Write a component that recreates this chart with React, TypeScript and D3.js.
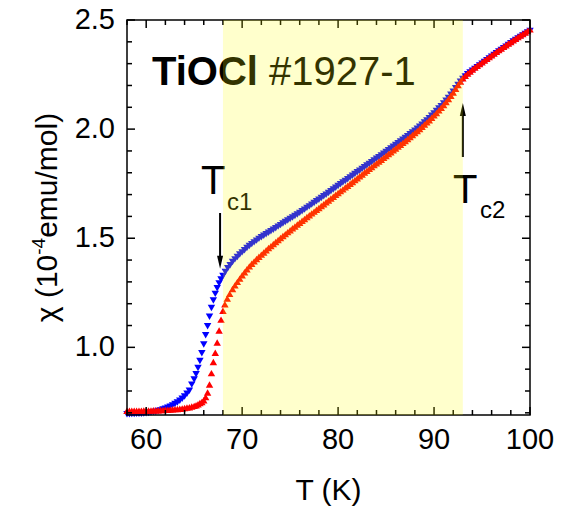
import React from "react";
import * as d3 from "d3";

// Run 1, down triangles (blue): [T (K), chi (1e-4 emu/mol)]
const run1: [number, number][] = [
  [58.0, 0.698], [58.25, 0.698], [58.5, 0.699], [58.75, 0.699], [59.0, 0.7], [59.25, 0.7], [59.5, 0.701],
  [59.75, 0.702], [60.0, 0.703], [60.25, 0.704], [60.5, 0.706], [60.75, 0.708], [61.0, 0.71], [61.25, 0.713],
  [61.5, 0.716], [61.75, 0.72], [62.0, 0.724], [62.25, 0.728], [62.5, 0.733], [62.75, 0.739], [63.0, 0.745],
  [63.25, 0.752], [63.5, 0.76], [63.75, 0.769], [64.0, 0.78], [64.25, 0.792], [64.5, 0.806], [64.75, 0.834],
  [65.0, 0.858], [65.2, 0.882], [65.4, 0.91], [65.6, 0.942], [65.8, 0.978], [66.0, 1.018], [66.2, 1.06],
  [66.4, 1.102], [66.6, 1.145], [66.8, 1.185], [67.0, 1.22], [67.2, 1.25], [67.4, 1.276], [67.6, 1.298],
  [67.8, 1.316], [68.0, 1.332], [68.25, 1.35], [68.5, 1.367], [68.75, 1.381], [69.0, 1.396],
  [69.25, 1.408], [69.5, 1.419], [69.75, 1.43], [70.0, 1.44], [70.25, 1.45], [70.5, 1.46], [70.75, 1.469],
  [71.0, 1.478], [71.25, 1.486], [71.5, 1.494], [71.75, 1.502], [72.0, 1.509], [72.25, 1.516], [72.5, 1.523],
  [72.75, 1.53], [73.0, 1.537], [73.25, 1.544], [73.5, 1.551], [73.75, 1.558], [74.0, 1.565], [74.25, 1.572],
  [74.5, 1.579], [74.75, 1.586], [75.0, 1.593], [75.25, 1.6], [75.5, 1.607], [75.75, 1.614], [76.0, 1.621],
  [76.25, 1.629], [76.5, 1.636], [76.75, 1.644], [77.0, 1.651], [77.25, 1.659], [77.5, 1.666], [77.75, 1.674],
  [78.0, 1.681], [78.25, 1.689], [78.5, 1.697], [78.75, 1.704], [79.0, 1.712], [79.25, 1.72], [79.5, 1.728],
  [79.75, 1.736], [80.0, 1.744], [80.25, 1.752], [80.5, 1.76], [80.75, 1.767], [81.0, 1.775], [81.25, 1.783],
  [81.5, 1.791], [81.75, 1.799], [82.0, 1.807], [82.25, 1.814], [82.5, 1.822], [82.75, 1.83], [83.0, 1.838],
  [83.25, 1.845], [83.5, 1.853], [83.75, 1.861], [84.0, 1.869], [84.25, 1.876], [84.5, 1.884], [84.75, 1.892],
  [85.0, 1.9], [85.25, 1.908], [85.5, 1.916], [85.75, 1.924], [86.0, 1.932], [86.25, 1.94], [86.5, 1.948],
  [86.75, 1.956], [87.0, 1.964], [87.25, 1.972], [87.5, 1.981], [87.75, 1.989], [88.0, 1.998], [88.25, 2.007],
  [88.5, 2.016], [88.75, 2.025], [89.0, 2.035], [89.25, 2.045], [89.5, 2.055], [89.75, 2.066], [90.0, 2.077],
  [90.25, 2.088], [90.5, 2.099], [90.75, 2.11], [91.0, 2.122], [91.25, 2.135], [91.5, 2.148], [91.75, 2.162],
  [92.0, 2.176], [92.25, 2.192], [92.5, 2.207], [92.75, 2.222], [93.0, 2.235], [93.25, 2.246], [93.5, 2.256],
  [93.75, 2.265], [94.0, 2.273], [94.25, 2.281], [94.5, 2.289], [94.75, 2.297], [95.0, 2.305], [95.25, 2.313],
  [95.5, 2.321], [95.75, 2.329], [96.0, 2.337], [96.25, 2.345], [96.5, 2.353], [96.75, 2.361], [97.0, 2.368],
  [97.25, 2.376], [97.5, 2.383], [97.75, 2.391], [98.0, 2.398], [98.25, 2.406], [98.5, 2.413], [98.75, 2.42],
  [99.0, 2.427], [99.25, 2.434], [99.5, 2.441], [99.75, 2.448], [100.0, 2.455],
];

// Run 2, up triangles (red): [T (K), chi (1e-4 emu/mol)]
const run2: [number, number][] = [
  [58.0, 0.705], [58.25, 0.705], [58.5, 0.705], [58.75, 0.705], [59.0, 0.705], [59.25, 0.705], [59.5, 0.705],
  [59.75, 0.706], [60.0, 0.706], [60.25, 0.706], [60.5, 0.706], [60.75, 0.707], [61.0, 0.707], [61.25, 0.707],
  [61.5, 0.708], [61.75, 0.708], [62.0, 0.709], [62.25, 0.709], [62.5, 0.71], [62.75, 0.711], [63.0, 0.712],
  [63.25, 0.713], [63.5, 0.714], [63.75, 0.715], [64.0, 0.717], [64.25, 0.719], [64.5, 0.721], [64.75, 0.724],
  [65.0, 0.727], [65.2, 0.73], [65.4, 0.734], [65.6, 0.74], [65.8, 0.745], [66.0, 0.753], [66.2, 0.767],
  [66.4, 0.788], [66.6, 0.825], [66.8, 0.877], [67.0, 0.928], [67.2, 0.97], [67.4, 1.017], [67.6, 1.072],
  [67.8, 1.122], [68.0, 1.163], [68.2, 1.193], [68.45, 1.219], [68.7, 1.24], [69.0, 1.262], [69.25, 1.279],
  [69.5, 1.295], [69.75, 1.31], [70.0, 1.325], [70.25, 1.339], [70.5, 1.353], [70.75, 1.366], [71.0, 1.378],
  [71.25, 1.389], [71.5, 1.4], [71.75, 1.41], [72.0, 1.42], [72.25, 1.43], [72.5, 1.44], [72.75, 1.45],
  [73.0, 1.459], [73.25, 1.469], [73.5, 1.478], [73.75, 1.487], [74.0, 1.496], [74.25, 1.505], [74.5, 1.514],
  [74.75, 1.523], [75.0, 1.532], [75.25, 1.541], [75.5, 1.549], [75.75, 1.558], [76.0, 1.566], [76.25, 1.575],
  [76.5, 1.583], [76.75, 1.592], [77.0, 1.6], [77.25, 1.609], [77.5, 1.617], [77.75, 1.626], [78.0, 1.634],
  [78.25, 1.643], [78.5, 1.651], [78.75, 1.66], [79.0, 1.668], [79.25, 1.677], [79.5, 1.685], [79.75, 1.694],
  [80.0, 1.702], [80.25, 1.711], [80.5, 1.719], [80.75, 1.728], [81.0, 1.736], [81.25, 1.745], [81.5, 1.753],
  [81.75, 1.762], [82.0, 1.77], [82.25, 1.779], [82.5, 1.787], [82.75, 1.796], [83.0, 1.804], [83.25, 1.813],
  [83.5, 1.821], [83.75, 1.83], [84.0, 1.838], [84.25, 1.847], [84.5, 1.855], [84.75, 1.864], [85.0, 1.872],
  [85.25, 1.881], [85.5, 1.889], [85.75, 1.898], [86.0, 1.906], [86.25, 1.915], [86.5, 1.923], [86.75, 1.932],
  [87.0, 1.941], [87.25, 1.95], [87.5, 1.959], [87.75, 1.968], [88.0, 1.977], [88.25, 1.986], [88.5, 1.996],
  [88.75, 2.006], [89.0, 2.016], [89.25, 2.026], [89.5, 2.036], [89.75, 2.047], [90.0, 2.058], [90.25, 2.069],
  [90.5, 2.081], [90.75, 2.093], [91.0, 2.106], [91.25, 2.119], [91.5, 2.133], [91.75, 2.148], [92.0, 2.163],
  [92.25, 2.18], [92.5, 2.197], [92.75, 2.213], [93.0, 2.228], [93.25, 2.24], [93.5, 2.25], [93.75, 2.259],
  [94.0, 2.268], [94.25, 2.277], [94.5, 2.285], [94.75, 2.293], [95.0, 2.301], [95.25, 2.309], [95.5, 2.317],
  [95.75, 2.325], [96.0, 2.333], [96.25, 2.341], [96.5, 2.349], [96.75, 2.357], [97.0, 2.364], [97.25, 2.372],
  [97.5, 2.379], [97.75, 2.387], [98.0, 2.394], [98.25, 2.402], [98.5, 2.409], [98.75, 2.417], [99.0, 2.424],
  [99.25, 2.431], [99.5, 2.438], [99.75, 2.445], [100.0, 2.452],
];

const xMajorTicks = [60, 70, 80, 90, 100];
const xMinorTicks = [58, 62, 64, 66, 68, 72, 74, 76, 78, 82, 84, 86, 88, 92, 94, 96, 98];
const yMajorTicks = [1.0, 1.5, 2.0, 2.5];
const yMinorTicks = [0.7, 0.8, 0.9, 1.1, 1.2, 1.3, 1.4, 1.6, 1.7, 1.8, 1.9, 2.1, 2.2, 2.3, 2.4];

// Shaded temperature window between the two transitions
const bandRange = [68, 93];
const tc1 = { t: 67.7, chi: 1.36 };
const tc2 = { t: 93.0, chi: 2.23 };

const W = 568;
const H = 511;
const left = 127;
const right = 530;
const top = 20;
const bottom = 415;

const FONT = "'Liberation Sans', Arial, Helvetica, sans-serif";

export default function App() {
  const x = d3.scaleLinear().domain([58, 100]).range([left, right]);
  const y = d3.scaleLinear().domain([0.69, 2.5]).range([bottom, top]);

  const tri = d3.symbol().type(d3.symbolTriangle).size(24)() as string;

  const majorLen = 8;
  const minorLen = 5;

  return (
    <svg
      width={W}
      height={H}
      style={{ position: "absolute", left: 0, top: 0, background: "#fff" }}
      fontFamily={FONT}
    >
      <rect x={0} y={0} width={W} height={H} fill="#fff" />

      {/* data */}
      <g fill="#0000ff">
        {run1.map(([t, c], i) => (
          <path key={i} d={tri} transform={`translate(${x(t)},${y(c)}) rotate(180)`} />
        ))}
      </g>
      <g fill="#ff0000">
        {run2.map(([t, c], i) => (
          <path key={i} d={tri} transform={`translate(${x(t)},${y(c)})`} />
        ))}
      </g>

      {/* title */}
      <text x={152} y={85} fontSize={40} fill="#000">
        <tspan fontWeight="bold">TiOCl</tspan>
        <tspan> #1927-1</tspan>
      </text>

      {/* Tc1 marker */}
      <text x={201} y={194} fontSize={40} fill="#000">T</text>
      <text x={227} y={210} fontSize={24} fill="#000">c1</text>
      <line x1={x(tc1.t)} x2={x(tc1.t)} y1={213} y2={y(tc1.chi) - 10} stroke="#000" strokeWidth={2} />
      <path d={`M${x(tc1.t)},${y(tc1.chi)} l-3,-13 l6,0 z`} fill="#000" />

      {/* Tc2 marker */}
      <line x1={x(tc2.t)} x2={x(tc2.t)} y1={157} y2={y(tc2.chi) + 34} stroke="#000" strokeWidth={2} />
      <path d={`M${x(tc2.t)},${y(tc2.chi) + 24} l-3,13 l6,0 z`} fill="#000" />
      <text x={453} y={203} fontSize={40} fill="#000">T</text>
      <text x={480} y={218} fontSize={24} fill="#000">c2</text>

      {/* axes frame and ticks */}
      <g stroke="#000" strokeWidth={1.5}>
        <rect x={left} y={top} width={right - left} height={bottom - top} fill="none" />
        {xMajorTicks.map((t) => (
          <g key={`xM${t}`}>
            <line x1={x(t)} x2={x(t)} y1={bottom} y2={bottom - majorLen} />
            <line x1={x(t)} x2={x(t)} y1={top} y2={top + majorLen} />
          </g>
        ))}
        {xMinorTicks.map((t) => (
          <g key={`xm${t}`}>
            <line x1={x(t)} x2={x(t)} y1={bottom} y2={bottom - minorLen} />
            <line x1={x(t)} x2={x(t)} y1={top} y2={top + minorLen} />
          </g>
        ))}
        {yMajorTicks.map((v) => (
          <g key={`yM${v}`}>
            <line x1={left} x2={left + majorLen} y1={y(v)} y2={y(v)} />
            <line x1={right} x2={right - majorLen} y1={y(v)} y2={y(v)} />
          </g>
        ))}
        {yMinorTicks.map((v) => (
          <g key={`ym${v}`}>
            <line x1={left} x2={left + minorLen} y1={y(v)} y2={y(v)} />
            <line x1={right} x2={right - minorLen} y1={y(v)} y2={y(v)} />
          </g>
        ))}
      </g>

      {/* tick labels */}
      <g fontSize={29} fill="#000">
        {xMajorTicks.map((t) => (
          <text key={`xl${t}`} x={x(t)} y={449} textAnchor="middle">
            {t}
          </text>
        ))}
        {yMajorTicks.map((v) => (
          <text key={`yl${v}`} x={115} y={y(v) + 9} textAnchor="end">
            {v.toFixed(1)}
          </text>
        ))}
      </g>

      {/* axis titles */}
      <text x={(left + right) / 2} y={500} fontSize={30} textAnchor="middle" fill="#000">
        T (K)
      </text>
      <text
        transform={`translate(57,${(top + bottom) / 2}) rotate(-90)`}
        fontSize={30}
        textAnchor="middle"
        fill="#000"
      >
        χ (10<tspan fontSize={19} dy={-12}>-4</tspan>
        <tspan dy={12}>emu/mol)</tspan>
      </text>

      {/* translucent yellow window */}
      <rect
        x={x(bandRange[0])}
        y={top}
        width={x(bandRange[1]) - x(bandRange[0])}
        height={bottom - top}
        fill="#ffff00"
        opacity={0.2}
      />
    </svg>
  );
}
